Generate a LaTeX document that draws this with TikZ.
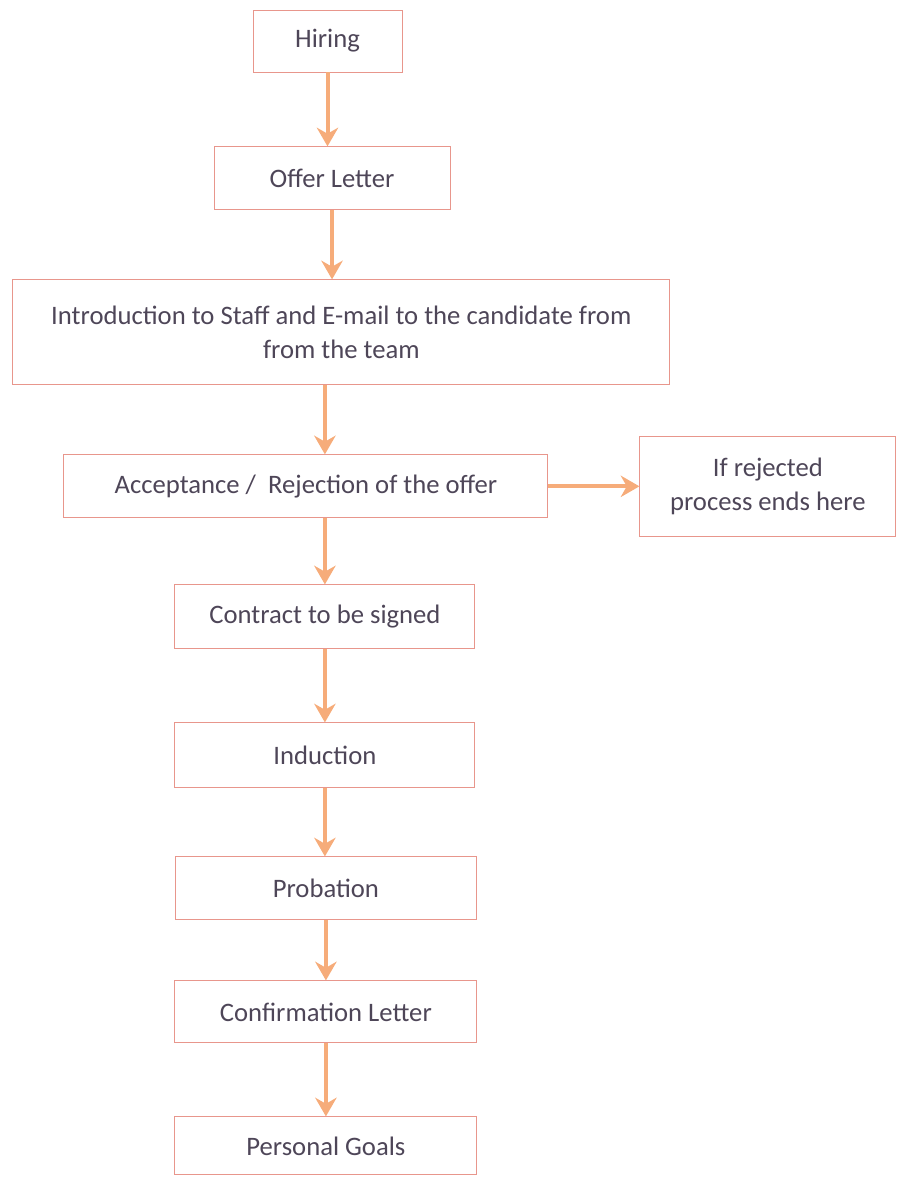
\documentclass[tikz,border=0pt]{standalone}
\usepackage{fontspec}
\setmainfont{Carlito}
\usetikzlibrary{arrows.meta}
\definecolor{boxred}{RGB}{232,150,140}
\definecolor{arroworange}{RGB}{246,172,122}
\definecolor{inkgray}{RGB}{78,70,88}
\tikzstyle{line} = [draw=arroworange, line width=3pt, -{Stealth[length=14pt, width=16pt, inset=4.5pt]}]
\tikzstyle{box} = [rectangle, draw=boxred, line width=0.7pt, inner sep=0pt, text=inkgray, align=center, minimum width=225pt, minimum height=47.25pt, font=\fontsize{20}{25}\selectfont]

\begin{document}
\begin{tikzpicture}[x=0.75pt, y=-0.75pt]
	\path [use as bounding box] (0,0) rectangle (898,1178);

	\node [box, minimum width=111.75pt, minimum height=46.5pt] (hiring) at (327.5,41) {Hiring};
	\node [box, below of = hiring, node distance = 103pt, xshift = 3.4pt, minimum width=177pt] (offer) {Offer Letter};
	\node [box, below of = offer, node distance = 115.5pt, xshift = 7pt, minimum width=492.75pt, minimum height=78.75pt] (intro) {Introduction to Staff and E-mail to the candidate from\\ from the team};
	\node [box, below of = intro, node distance = 115.5pt, xshift = -26.6pt, minimum width=363pt] (accept) {Acceptance /\ \ Rejection of the offer};
	\node [box, right of = accept, node distance = 346.5pt, minimum width=192pt, minimum height=75pt] (reject) {If rejected\\ process ends here};
	\node [box, below of = accept, node distance = 97.9pt, xshift = 14.25pt, minimum height=48pt] (contract) {Contract to be signed};
	\node [box, below of = contract, node distance = 103.9pt, minimum height=48.75pt] (induction) {Induction};
	\node [box, below of = induction, node distance = 99.75pt, xshift = 0.75pt, minimum width=225.75pt] (probation) {Probation};
	\node [box, below of = probation, node distance = 92.6pt, minimum width=226.5pt, minimum height=46.5pt] (confirm) {Confirmation Letter};
	\node [box, below of = confirm, node distance = 100.5pt, minimum width=226.5pt, minimum height=43.5pt] (goals) {Personal Goals};

	\path [line] (hiring.south) -- (hiring.south |- offer.north);
	\path [line] (offer.south) -- (offer.south |- intro.north);
	\path [line] (contract.north |- intro.south) -- (contract.north |- accept.north);
	\path [line] (accept.east) -- (accept.east -| reject.west);
	\path [line] (contract.north |- accept.south) -- (contract.north);
	\path [line] (contract.south) -- (induction.north);
	\path [line] (induction.south) -- (induction.south |- probation.north);
	\path [line] (probation.south) -- (probation.south |- confirm.north);
	\path [line] (confirm.south) -- (confirm.south |- goals.north);
\end{tikzpicture}
\end{document}
